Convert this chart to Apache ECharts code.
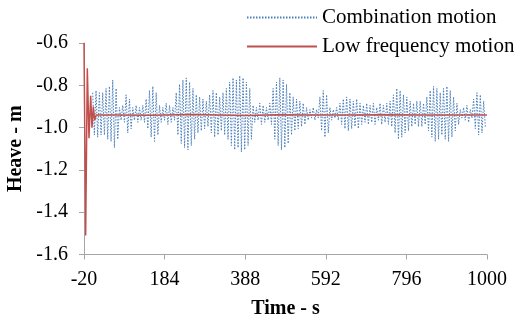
<!DOCTYPE html>
<html>
<head>
<meta charset="utf-8">
<script src="https://cdn.jsdelivr.net/npm/echarts@6/dist/echarts.min.js"></script>
<style>html,body{margin:0;padding:0;background:#fff}#c{width:514px;height:320px}</style>
</head>
<body>
<div id="c"></div>
<script>
// Axis ticks
var xTicks = [-20, 184, 388, 592, 796, 1000];
var yTicks = [-1.6, -1.4, -1.2, -1.0, -0.8, -0.6];

// Combination motion: mean level and per-cycle half amplitudes
var comboStart = 2;      // s, first cycle
var comboEnd = 1000;     // s, last point
var comboMean = -0.935;
var comboAmp = [
  0.10,0.11,0.10,0.10,0.12,0.13,0.16,0.12,
  0.03,0.04,0.09,0.07,0.03,0.04,0.03,0.04,
  0.07,0.11,0.13,0.10,
  0.04,0.03,0.05,0.04,0.03,
  0.10,0.14,0.16,0.17,0.15,0.12,0.09,
  0.08,0.07,0.06,
  0.09,0.11,0.10,
  0.08,0.10,0.12,
  0.15,0.17,0.16,0.18,0.17,0.15,0.12,
  0.04,0.03,0.05,0.04,0.03,0.05,
  0.12,0.15,0.17,0.16,0.14,0.10,
  0.08,0.07,0.06,0.05,0.03,
  0.02,0.03,0.02,
  0.08,0.11,0.09,
  0.03,0.02,0.03,
  0.05,0.07,0.08,0.07,0.06,0.07,0.05,
  0.04,0.05,0.04,0.05,0.03,0.05,0.04,0.05,
  0.06,0.09,0.12,0.11,0.09,0.08,0.06,
  0.05,0.06,0.06,0.05,
  0.08,0.11,0.13,0.12,0.10,0.12,0.13,0.11,0.08,0.05,
  0.02,0.03,0.04,0.02,
  0.07,0.10,0.09,0.06
];

// Low frequency motion (time, value)
var lowT = [-20, -15.8, -11.6, -7.4, -3.1, 0.2, 3.6, 7, 11, 60, 150, 250, 320, 390, 470, 560, 650, 740, 830, 920, 1000];
var lowV = [-0.6, -1.51, -0.72, -1.05, -0.85, -1.0, -0.90, -0.965, -0.94, -0.94, -0.942, -0.938, -0.94, -0.943, -0.939, -0.94, -0.941, -0.939, -0.94, -0.94, -0.94];

var dt = (comboEnd - comboStart) / comboAmp.length;
var comboData = [];
for (var i = 0; i < comboAmp.length; i++) {
  var t = comboStart + i * dt;
  comboData.push([t, comboMean + comboAmp[i]]);
  comboData.push([t + dt / 2, comboMean - comboAmp[i]]);
}
var lowData = lowT.map(function (t, k) { return [t, lowV[k]]; });

var font = 'Liberation Serif';
var chart = echarts.init(document.getElementById('c'));
chart.setOption({
  animation: false,
  backgroundColor: '#fff',
  grid: { left: 84, right: 27, top: 43, bottom: 65.5, containLabel: false, outerBoundsMode: 'none' },
  legend: {
    orient: 'vertical', left: 241, top: 2,
    itemWidth: 70, itemHeight: 14, itemGap: 8,
    itemStyle: { opacity: 0, borderWidth: 0 },
    textStyle: { fontFamily: font, fontSize: 21, color: '#000' },
    data: ['Combination motion', 'Low frequency motion']
  },
  xAxis: {
    type: 'value', min: xTicks[0], max: xTicks[xTicks.length - 1], interval: xTicks[1] - xTicks[0],
    name: 'Time - s', nameLocation: 'middle', nameGap: 44,
    nameTextStyle: { fontFamily: font, fontSize: 20, fontWeight: 'bold', color: '#000' },
    axisLine: { onZero: false, lineStyle: { color: '#a6a6a6', width: 1 } },
    axisTick: { show: true, inside: false, length: 5, lineStyle: { color: '#a6a6a6' } },
    axisLabel: { fontFamily: font, fontSize: 20, color: '#000', margin: 15, showMinLabel: true, showMaxLabel: true,
      formatter: function (v) { return String(Math.round(v)); } },
    splitLine: { show: false }
  },
  yAxis: {
    type: 'value', min: yTicks[0], max: yTicks[yTicks.length - 1], interval: 0.2,
    name: 'Heave - m', nameLocation: 'middle', nameGap: 52, nameRotate: 90,
    nameTextStyle: { fontFamily: font, fontSize: 20, fontWeight: 'bold', color: '#000' },
    axisLine: { show: true, onZero: false, lineStyle: { color: '#a6a6a6', width: 1 } },
    axisTick: { show: true, inside: false, length: 5, lineStyle: { color: '#a6a6a6' } },
    axisLabel: { fontFamily: font, fontSize: 20, color: '#000', margin: 16, formatter: function (v) { return v.toFixed(1); } },
    splitLine: { show: false }
  },
  series: [
    {
      name: 'Combination motion', type: 'line', data: comboData, showSymbol: false, symbol: 'none',
      lineStyle: { color: '#4a7ebb', width: 1, type: [1.5, 1.5] }, itemStyle: { color: '#4a7ebb' }, z: 2
    },
    {
      name: 'Low frequency motion', type: 'line', data: lowData, showSymbol: false, symbol: 'none',
      lineStyle: { color: '#c0504d', width: 1.5 }, itemStyle: { color: '#c0504d' }, z: 3
    }
  ]
});
</script>
</body>
</html>
